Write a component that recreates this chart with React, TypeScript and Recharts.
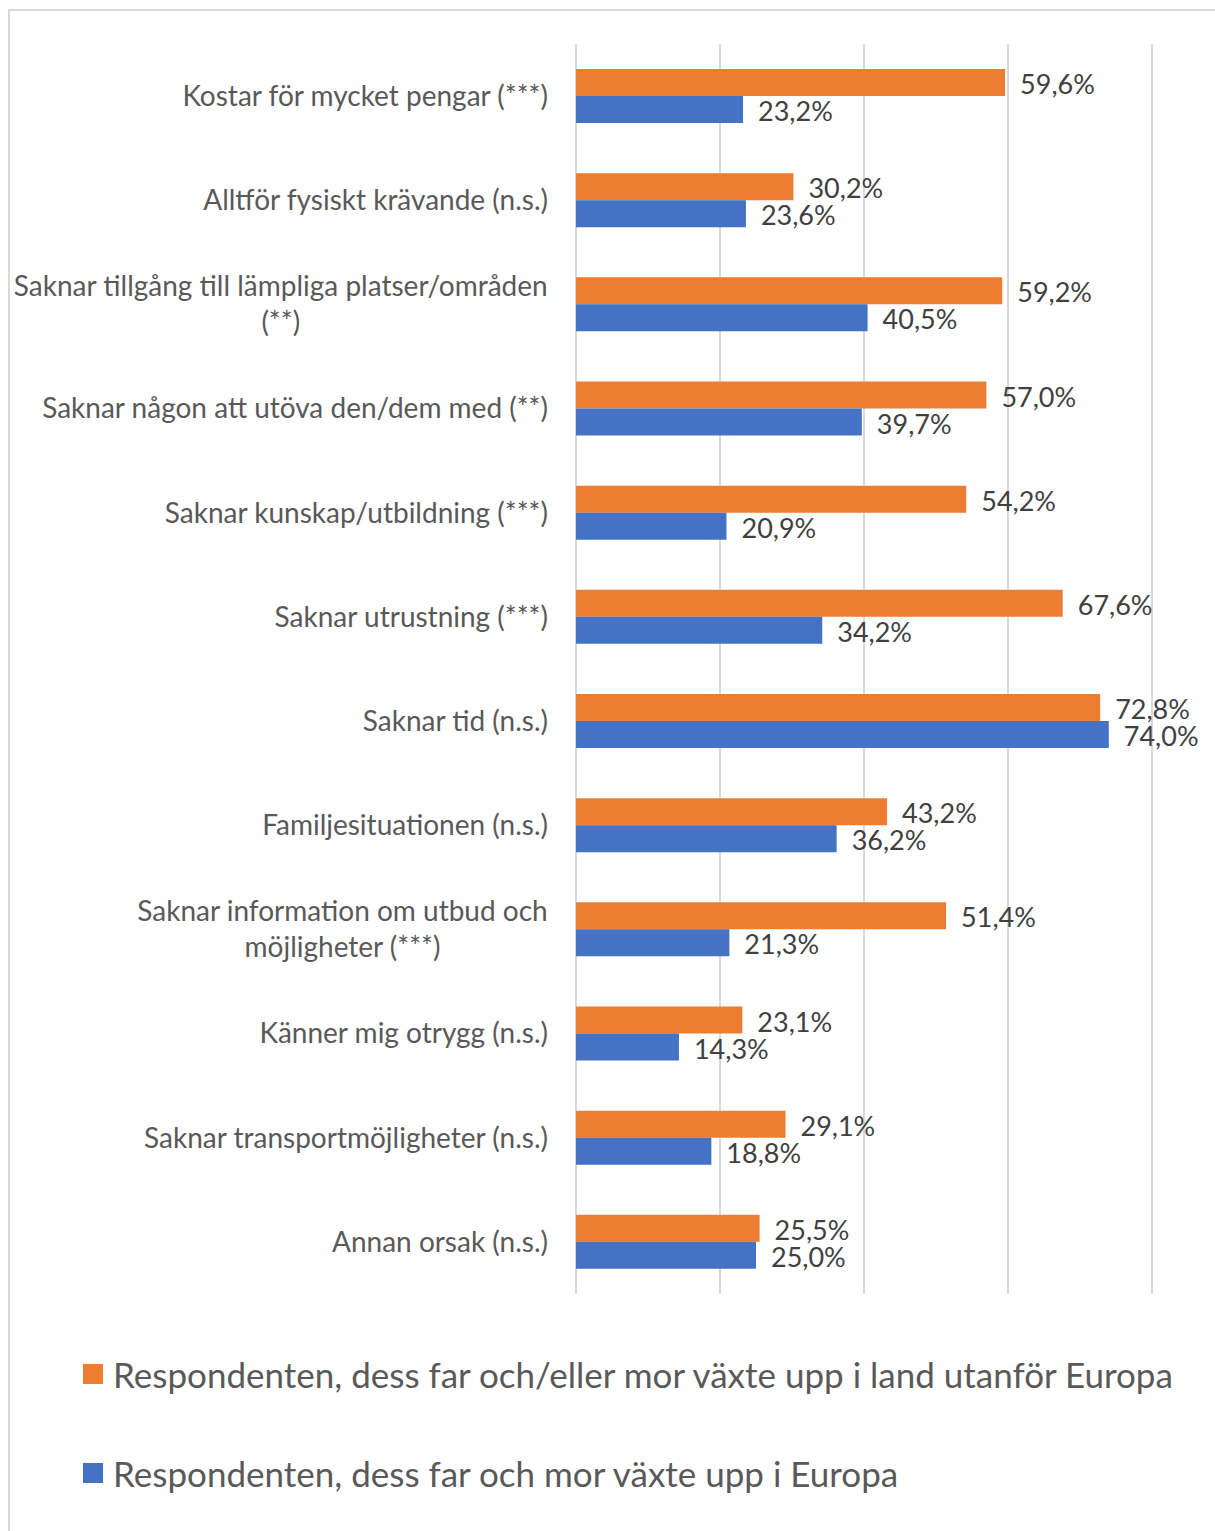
import React from 'react';
import { BarChart, Bar, XAxis, YAxis, CartesianGrid, LabelList } from 'recharts';

const categories = [
  'Kostar för mycket pengar (***)',
  'Alltför fysiskt krävande (n.s.)',
  'Saknar tillgång till lämpliga platser/områden\n(**)',
  'Saknar någon att utöva den/dem med (**)',
  'Saknar kunskap/utbildning (***)',
  'Saknar utrustning (***)',
  'Saknar tid (n.s.)',
  'Familjesituationen (n.s.)',
  'Saknar information om utbud och\nmöjligheter (***)',
  'Känner mig otrygg (n.s.)',
  'Saknar transportmöjligheter (n.s.)',
  'Annan orsak (n.s.)',
];

const outsideEurope = [59.6, 30.2, 59.2, 57.0, 54.2, 67.6, 72.8, 43.2, 51.4, 23.1, 29.1, 25.5];
const inEurope = [23.2, 23.6, 40.5, 39.7, 20.9, 34.2, 74.0, 36.2, 21.3, 14.3, 18.8, 25.0];

const seriesNames = [
  'Respondenten, dess far och/eller mor växte upp i land utanför Europa',
  'Respondenten, dess far och mor växte upp i Europa',
];
const seriesColors = ['#ED7D31', '#4472C4'];
const xTicks = [0, 20, 40, 60, 80];

const FONT = 'Lato, sans-serif';
const CAT_SIZE = 28;
const VALUE_SIZE = 27;

const data = categories.map((name, i) => ({
  name,
  outside: outsideEurope[i],
  inside: inEurope[i],
}));

let ctx: CanvasRenderingContext2D | null = null;
const measure = (text: string) => {
  if (!ctx) ctx = document.createElement('canvas').getContext('2d');
  if (!ctx) return text.length * CAT_SIZE * 0.5;
  ctx.font = `${CAT_SIZE}px Lato`;
  return ctx.measureText(text).width;
};

const CategoryTick = (props: any) => {
  const { y, payload } = props;
  const lines = String(payload.value).split('\n');
  const lineH = 36;
  const right = 548;
  const blockW = Math.max(...lines.map(measure));
  const cx = right - blockW / 2;
  const top = y - ((lines.length - 1) * lineH) / 2;
  return (
    <g>
      {lines.map((l, i) => (
        <text
          key={i}
          x={lines.length > 1 ? cx : right}
          y={top + i * lineH}
          dy="0.35em"
          textAnchor={lines.length > 1 ? 'middle' : 'end'}
          fill="#595959"
          fontSize={CAT_SIZE}
          fontFamily={FONT}
        >
          {l}
        </text>
      ))}
    </g>
  );
};

const fmt = (v: any) => `${Number(v).toFixed(1).replace('.', ',')}%`;

export default function App() {
  return (
    <div style={{ position: 'relative', width: 1215, height: 1531, overflow: 'hidden' }}>
      <style>{'body{margin:0;overflow:hidden}'}</style>
      <div
        style={{
          position: 'absolute',
          left: 8,
          top: 9,
          right: 0,
          bottom: 0,
          borderTop: '2px solid #d9d9d9',
          borderLeft: '2px solid #d9d9d9',
        }}
      />
      <div style={{ position: 'absolute', left: 0, top: 0 }}>
        <BarChart
          width={1215}
          height={1531}
          data={data}
          layout="vertical"
          margin={{ top: 44, right: 63, bottom: 237, left: 0 }}
          barGap={0}
          barSize={27}
        >
          <CartesianGrid horizontal={false} stroke="#d9d9d9" strokeWidth={2} />
          <XAxis type="number" domain={[0, 80]} ticks={xTicks} hide />
          <YAxis
            type="category"
            dataKey="name"
            width={576}
            axisLine={false}
            tickLine={false}
            tick={<CategoryTick />}
            interval={0}
          />
          <Bar dataKey="outside" name={seriesNames[0]} fill={seriesColors[0]} isAnimationActive={false}>
            <LabelList
              dataKey="outside"
              position="right"
              offset={15}
              formatter={fmt}
              fill="#404040"
              fontSize={VALUE_SIZE}
              fontFamily={FONT}
              dy={2}
            />
          </Bar>
          <Bar dataKey="inside" name={seriesNames[1]} fill={seriesColors[1]} isAnimationActive={false}>
            <LabelList
              dataKey="inside"
              position="right"
              offset={15}
              formatter={fmt}
              fill="#404040"
              fontSize={VALUE_SIZE}
              fontFamily={FONT}
              dy={2}
            />
          </Bar>
        </BarChart>
      </div>
      {seriesNames.map((n, i) => (
        <div
          key={n}
          style={{
            position: 'absolute',
            left: 83,
            top: 1374 + i * 99 - 25,
            height: 50,
            display: 'flex',
            alignItems: 'center',
            fontFamily: FONT,
            fontSize: 35,
            color: '#595959',
            whiteSpace: 'nowrap',
          }}
        >
          <span style={{ display: 'inline-block', width: 20, height: 20, background: seriesColors[i], marginRight: 10 }} />
          {n}
        </div>
      ))}
    </div>
  );
}
